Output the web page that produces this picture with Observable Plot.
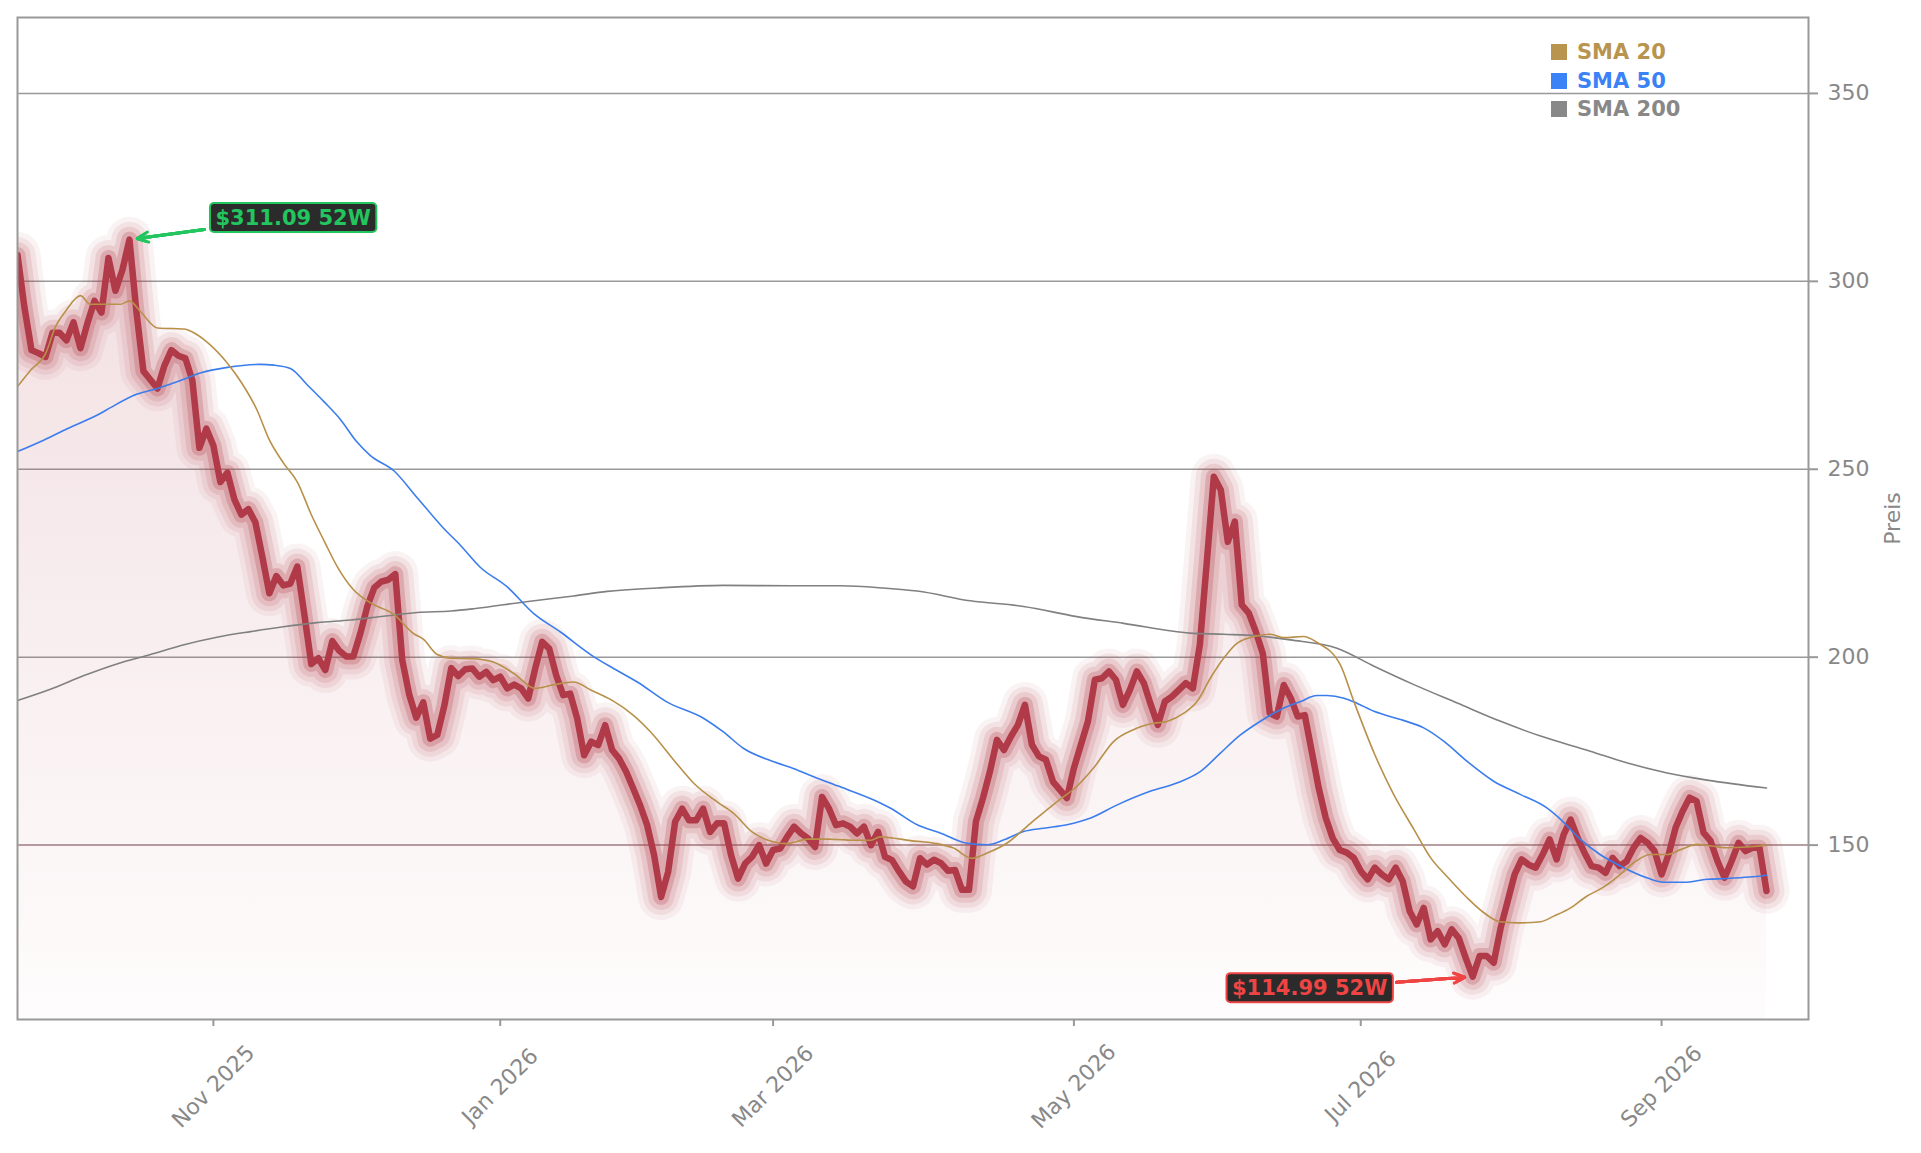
<!DOCTYPE html>
<html>
<head>
<meta charset="utf-8">
<script src="https://cdn.jsdelivr.net/npm/d3@7"></script>
<script src="https://cdn.jsdelivr.net/npm/@observablehq/plot@0.6"></script>
<style>
  html, body { margin: 0; padding: 0; background: #fff; }
  #wrap { position: relative; width: 1921px; height: 1153px; font-family: "DejaVu Sans", sans-serif; }
  #legend { position: absolute; left: 1551px; top: 38px; font-weight: bold; font-size: 21px; }
  #legend .row { display: flex; align-items: center; height: 28.5px; }
  #legend .sw { width: 16px; height: 16px; margin-right: 10px; }
</style>
</head>
<body>
<div id="wrap"><div id="legend"></div></div>
<script>
// ---- Data (trading-day index on x) ----
const price = [
  307.0, 293.0, 281.7, 280.9, 279.9, 286.3, 286.3, 284.3, 289.1, 282.2,
  288.9, 294.8, 291.7, 306.2, 297.5, 303.1, 311.09, 291.9, 276.1, 273.8,
  271.5, 277.6, 281.7, 280.2, 279.5, 273.6, 255.7, 260.8, 256.3, 246.6,
  249.1, 242.0, 237.9, 239.4, 235.9, 226.7, 217.0, 221.6, 219.1, 219.6,
  224.1, 211.4, 198.2, 199.7, 196.6, 204.3, 201.7, 200.2, 200.2, 206.3,
  213.5, 218.5, 220.1, 220.6, 222.1, 199.2, 190.0, 183.9, 188.0, 178.3,
  179.3, 187.0, 197.1, 195.0, 196.8, 197.0, 194.8, 196.1, 193.9, 194.8,
  191.7, 192.7, 191.7, 189.0, 197.0, 204.1, 202.3, 195.2, 189.9, 190.3,
  183.7, 173.9, 177.5, 176.6, 181.9, 175.3, 173.0, 169.5, 165.1, 160.6,
  155.3, 147.3, 136.2, 142.9, 156.2, 159.7, 156.6, 156.6, 159.7, 153.5,
  155.8, 155.8, 147.3, 141.1, 145.1, 146.9, 150.0, 145.1, 148.7, 149.1,
  152.2, 154.9, 153.1, 151.8, 149.5, 162.8, 159.7, 155.3, 155.8, 154.9,
  153.1, 154.9, 150.0, 153.5, 146.9, 146.0, 143.0, 140.3, 139.0, 146.5,
  144.8, 146.1, 145.2, 143.2, 143.4, 138.1, 138.1, 156.3, 162.5, 169.6,
  178.0, 175.3, 178.9, 182.0, 187.3, 176.7, 173.6, 172.7, 166.9, 164.7,
  162.5, 170.5, 176.7, 182.9, 194.0, 194.4, 196.2, 194.0, 187.3, 191.3,
  196.2, 193.1, 187.3, 182.0, 188.2, 189.5, 191.3, 193.1, 191.7, 203.3,
  225.4, 248.0, 244.5, 230.7, 236.1, 213.9, 211.7, 206.8, 201.0, 185.1,
  184.2, 192.6, 189.1, 184.2, 184.6, 174.9, 165.1, 157.2, 151.8, 148.7,
  148.0, 146.6, 143.1, 140.9, 144.0, 142.2, 140.9, 144.0, 140.4, 132.4,
  128.9, 133.3, 124.9, 127.1, 123.6, 127.6, 125.3, 120.0, 114.99, 120.5,
  120.5, 118.7, 128.0, 135.1, 142.2, 146.2, 144.8, 144.0, 147.5, 151.5,
  146.2, 152.8, 156.8, 151.9, 147.9, 144.4, 144.0, 142.6, 146.6, 144.4,
  145.7, 149.3, 151.9, 150.6, 148.4, 142.2, 147.5, 154.6, 159.0, 162.6,
  161.7, 153.3, 151.1, 145.7, 141.3, 145.7, 150.6, 148.4, 149.3, 149.3,
  137.8
];

const sma20Idx = [0,2,4,5.4,7,9,10.4,12.8,14.7,16,17.6,20,23.8,25.2,27.1,30,32,34.2,36,38,40,42,44,45.7,48,50.4,53.8,56.6,58,60,62,65,68,71,74,76.7,79.5,82,85,88,90.5,94,96.7,100,102.4,105,108,110,113,116,119.5,122,123.3,125,127.6,131,133.8,136.4,138.6,141.4,144.8,148.6,151.4,153.8,156.7,159.5,162.4,164.3,166.7,168.6,170.5,172.4,174.3,177.2,179.1,181,183.8,185.7,189.1,191,194,196.7,199.6,202,204.3,207.2,209.6,211.9,214.3,217.7,219.6,222,224.3,226.7,229.1,231,233.4,235.8,237.7,240.1,242.4,244.3,247.2,250];
const sma20Val = [272.0,276.6,280.7,287.8,292.4,296.2,293.9,293.9,293.9,294.8,291.9,287.6,287.3,286.3,283.8,278.2,273.1,265.9,257.8,251.7,246.6,237.9,230.3,224.1,218.0,214.5,211.4,206.3,204.8,200.7,199.7,199.6,198.7,195.6,191.7,192.7,193.4,191.2,188.5,184.6,180.1,172.2,166.4,161.5,158.4,153.5,150.9,150.4,151.6,151.6,151.3,151.3,152.2,151.9,151.2,150.5,149.2,146.5,147.9,150.5,155.8,161.6,165.6,170.5,177.6,180.7,182.4,182.9,185.1,188.2,194.4,199.7,203.7,205.7,206.1,205.2,205.5,204.0,197.9,188.3,174.1,163.5,154.2,146.6,141.7,136.0,132.0,129.6,129.3,129.6,131.1,133.3,136.4,138.8,142.2,145.3,147.5,147.5,148.8,150.2,149.7,149.3,149.5,150.0];

const sma50Idx = [0,3.8,7.1,11.9,13.3,17.1,20,23.3,26.1,30,34.7,36.6,39,41.4,43.8,46.1,48.5,50.4,53.8,57.1,60.9,63.3,66.1,70,73.8,77.6,82.4,85.2,88.6,92.8,98.1,100.9,103.8,108.1,110.9,113.8,117.6,122.4,124.8,128.6,131.9,135.7,138.6,141,143.8,146.7,150,153.4,157.2,161.9,165.7,169.1,171.9,174.8,177.6,180.5,183.4,185.7,187.2,189.6,191.5,193.9,197.7,201,203.9,207.2,211,214.8,218.6,220.6,223.4,226.2,229.6,232.9,235.3,238.2,241.5,244.3,247.6,250];
const sma50Val = [254.7,257.8,260.8,264.9,266.4,270.0,271.5,273.6,275.6,277.1,277.9,277.7,276.8,272.5,268.0,263.4,257.3,253.7,249.6,242.5,234.3,229.8,224.0,218.7,211.6,206.7,200.1,197.0,193.4,188.1,183.7,180.1,175.7,172.2,170.4,168.2,165.5,162.0,159.8,155.4,153.2,150.5,150.1,151.4,153.6,154.5,155.4,157.2,160.7,164.3,166.5,169.6,174.4,179.3,182.9,186.0,188.2,189.8,189.8,189.1,187.7,185.6,183.4,181.2,177.6,172.3,167.0,163.5,159.9,156.8,151.5,147.5,144.0,141.3,140.1,140.1,140.9,141.1,141.5,142.0];

const sma200Idx = [0,4.7,9.5,14.2,19,23.8,28.5,33.3,38,42.8,47.6,52.3,57.1,62,65.2,72.4,79.5,84.3,91.4,100.9,110.5,117.6,123.8,128.6,136.2,143.8,151.4,158.1,167.6,172.4,177.2,181.9,188.6,193.9,199.6,205.8,211.9,217.7,224.8,230,235.8,241.5,250];
const sma200Val = [188.5,191.5,195.1,198.2,200.7,203.3,205.3,206.8,208.1,209.2,209.9,210.9,211.9,212.3,212.9,214.7,216.3,217.5,218.4,219.1,219.0,219.0,218.4,217.6,215.0,213.5,210.8,209.0,206.4,206.1,205.7,204.6,202.4,197.6,192.7,187.8,183.0,179.0,175.0,171.9,169.2,167.3,165.2];

const xTickIdx = [28, 69, 108, 151, 192, 235];
const xTickLabels = ["Nov 2025", "Jan 2026", "Mar 2026", "May 2026", "Jul 2026", "Sep 2026"];
const yTicks = [150, 200, 250, 300, 350];
const xDomain = [0, 256];
const yDomain = [103.6, 370.2];

const legendNames = ["SMA 20", "SMA 50", "SMA 200"];
const legendColors = ["#b8944f", "#3b82f6", "#888888"];

// 52-week annotations: label centre, arrow start, target
const annHigh = {text: "$311.09 52W", color: "#22c55e", lx: 39.4, ly: 316.9, ax: 26.7, ay: 313.8, tx: 16, ty: 311.09};
const annLow  = {text: "$114.99 52W", color: "#ef4444", lx: 184.7, ly: 112.0, ax: 197.1, ay: 113.5, tx: 208, ty: 114.99};

// ---- Build ----
const priceData = price.map((v, i) => ({i, v}));
const pairs = (xs, ys) => xs.map((x, k) => [x, ys[k]]);
const red = "#b03a48";

const glow = [[46, 0.06], [36, 0.09], [26, 0.13], [16, 0.24]].map(([w, o]) =>
  Plot.lineY(priceData, {x: "i", y: "v", stroke: red, strokeWidth: w, strokeOpacity: o,
    strokeLinejoin: "round", strokeLinecap: "round", clip: true}));

// stacked arrow heads of decreasing size give a filled triangular head
const arrows = [annHigh, annLow].flatMap(a => [6, 4.5, 3, 1.5].map(h =>
  Plot.arrow([a], {x1: "ax", y1: "ay", x2: "tx", y2: "ty", stroke: a.color, strokeWidth: 3,
    headLength: h, headAngle: 50, insetEnd: 8})));

const chart = Plot.plot({
  width: 1921, height: 1153,
  marginLeft: 17, marginRight: 113, marginTop: 17, marginBottom: 134,
  style: {fontFamily: "DejaVu Sans, sans-serif", background: "transparent", overflow: "visible"},
  x: {domain: xDomain, axis: null},
  y: {domain: yDomain, axis: null},
  marks: [
    Plot.ruleY(yTicks.filter(t => t !== yTicks[0]), {stroke: "#999", strokeWidth: 1.5}),
    Plot.ruleY([yTicks[0]], {stroke: "#a07f83", strokeWidth: 1.5}),
    Plot.areaY(priceData, {x: "i", y1: () => yDomain[0], y2: "v", fill: "url(#priceFill)", clip: true}),
    ...glow,
    Plot.lineY(priceData, {x: "i", y: "v", stroke: red, strokeWidth: 6.5,
      strokeLinejoin: "round", strokeLinecap: "round", clip: true}),
    Plot.line(pairs(sma200Idx, sma200Val), {stroke: "#808080", strokeWidth: 1.6, curve: "monotone-x", clip: true}),
    Plot.line(pairs(sma50Idx, sma50Val), {stroke: "#3b7ded", strokeWidth: 1.6, curve: "monotone-x", clip: true}),
    Plot.line(pairs(sma20Idx, sma20Val), {stroke: "#b8904a", strokeWidth: 1.6, curve: "monotone-x", clip: true}),
    Plot.frame({stroke: "#999", strokeWidth: 2}),
    Plot.axisY(yTicks, {anchor: "right", tickSize: 9, tickPadding: 10, stroke: "#999", strokeWidth: 2,
      fill: "#888", fontSize: 22, label: null}),
    Plot.axisX(xTickIdx, {anchor: "bottom", tickSize: 7, tickPadding: 0, stroke: "#999", strokeWidth: 2,
      tickFormat: () => "", label: null}),
    Plot.text(xTickIdx, {x: d => d, text: (d, k) => xTickLabels[k], frameAnchor: "bottom", dy: 67,
      rotate: -45, textAnchor: "middle", lineAnchor: "middle", fontSize: 22, fill: "#888"}),
    Plot.text(["Preis"], {frameAnchor: "right", dx: 84, rotate: -90, textAnchor: "middle",
      lineAnchor: "middle", fontSize: 22, fill: "#888"}),
    ...arrows,
    ...[annHigh, annLow].map((a, k) => Plot.text([a], {x: "lx", y: "ly", text: "text",
      fill: a.color, fontSize: 21, fontWeight: "bold", textAnchor: "middle", className: "ann" + k}))
  ]
});

// gradient for the price area
const yr = chart.scale("y").range;
const defs = d3.select(chart).insert("defs", ":first-child");
const grad = defs.append("linearGradient").attr("id", "priceFill")
  .attr("gradientUnits", "userSpaceOnUse")
  .attr("x1", 0).attr("x2", 0).attr("y1", Math.min(...yr)).attr("y2", Math.max(...yr));
grad.append("stop").attr("offset", 0).attr("stop-color", red).attr("stop-opacity", 0.2);
grad.append("stop").attr("offset", 1).attr("stop-color", red).attr("stop-opacity", 0.015);

const wrap = document.getElementById("wrap");
wrap.insertBefore(chart, wrap.firstChild);

// label boxes behind annotation texts
[annHigh, annLow].forEach((a, k) => {
  d3.select(chart).selectAll(".ann" + k + " text").each(function () {
    const b = this.getBBox();
    const padX = 5.5, padY = 2.5;
    const r = document.createElementNS("http://www.w3.org/2000/svg", "rect");
    r.setAttribute("x", b.x - padX);
    r.setAttribute("y", b.y - padY);
    r.setAttribute("width", b.width + 2 * padX);
    r.setAttribute("height", b.height + 2 * padY);
    r.setAttribute("rx", 4);
    r.setAttribute("fill", "#2b2b2b");
    r.setAttribute("stroke", a.color);
    r.setAttribute("stroke-width", 2);
    const t = this.getAttribute("transform");
    if (t) r.setAttribute("transform", t);
    this.parentNode.insertBefore(r, this);
  });
});

// legend
const legend = d3.select("#legend");
legendNames.forEach((n, k) => {
  const row = legend.append("div").attr("class", "row").style("color", legendColors[k]);
  row.append("div").attr("class", "sw").style("background", legendColors[k]);
  row.append("span").text(n);
});
</script>
</body>
</html>
